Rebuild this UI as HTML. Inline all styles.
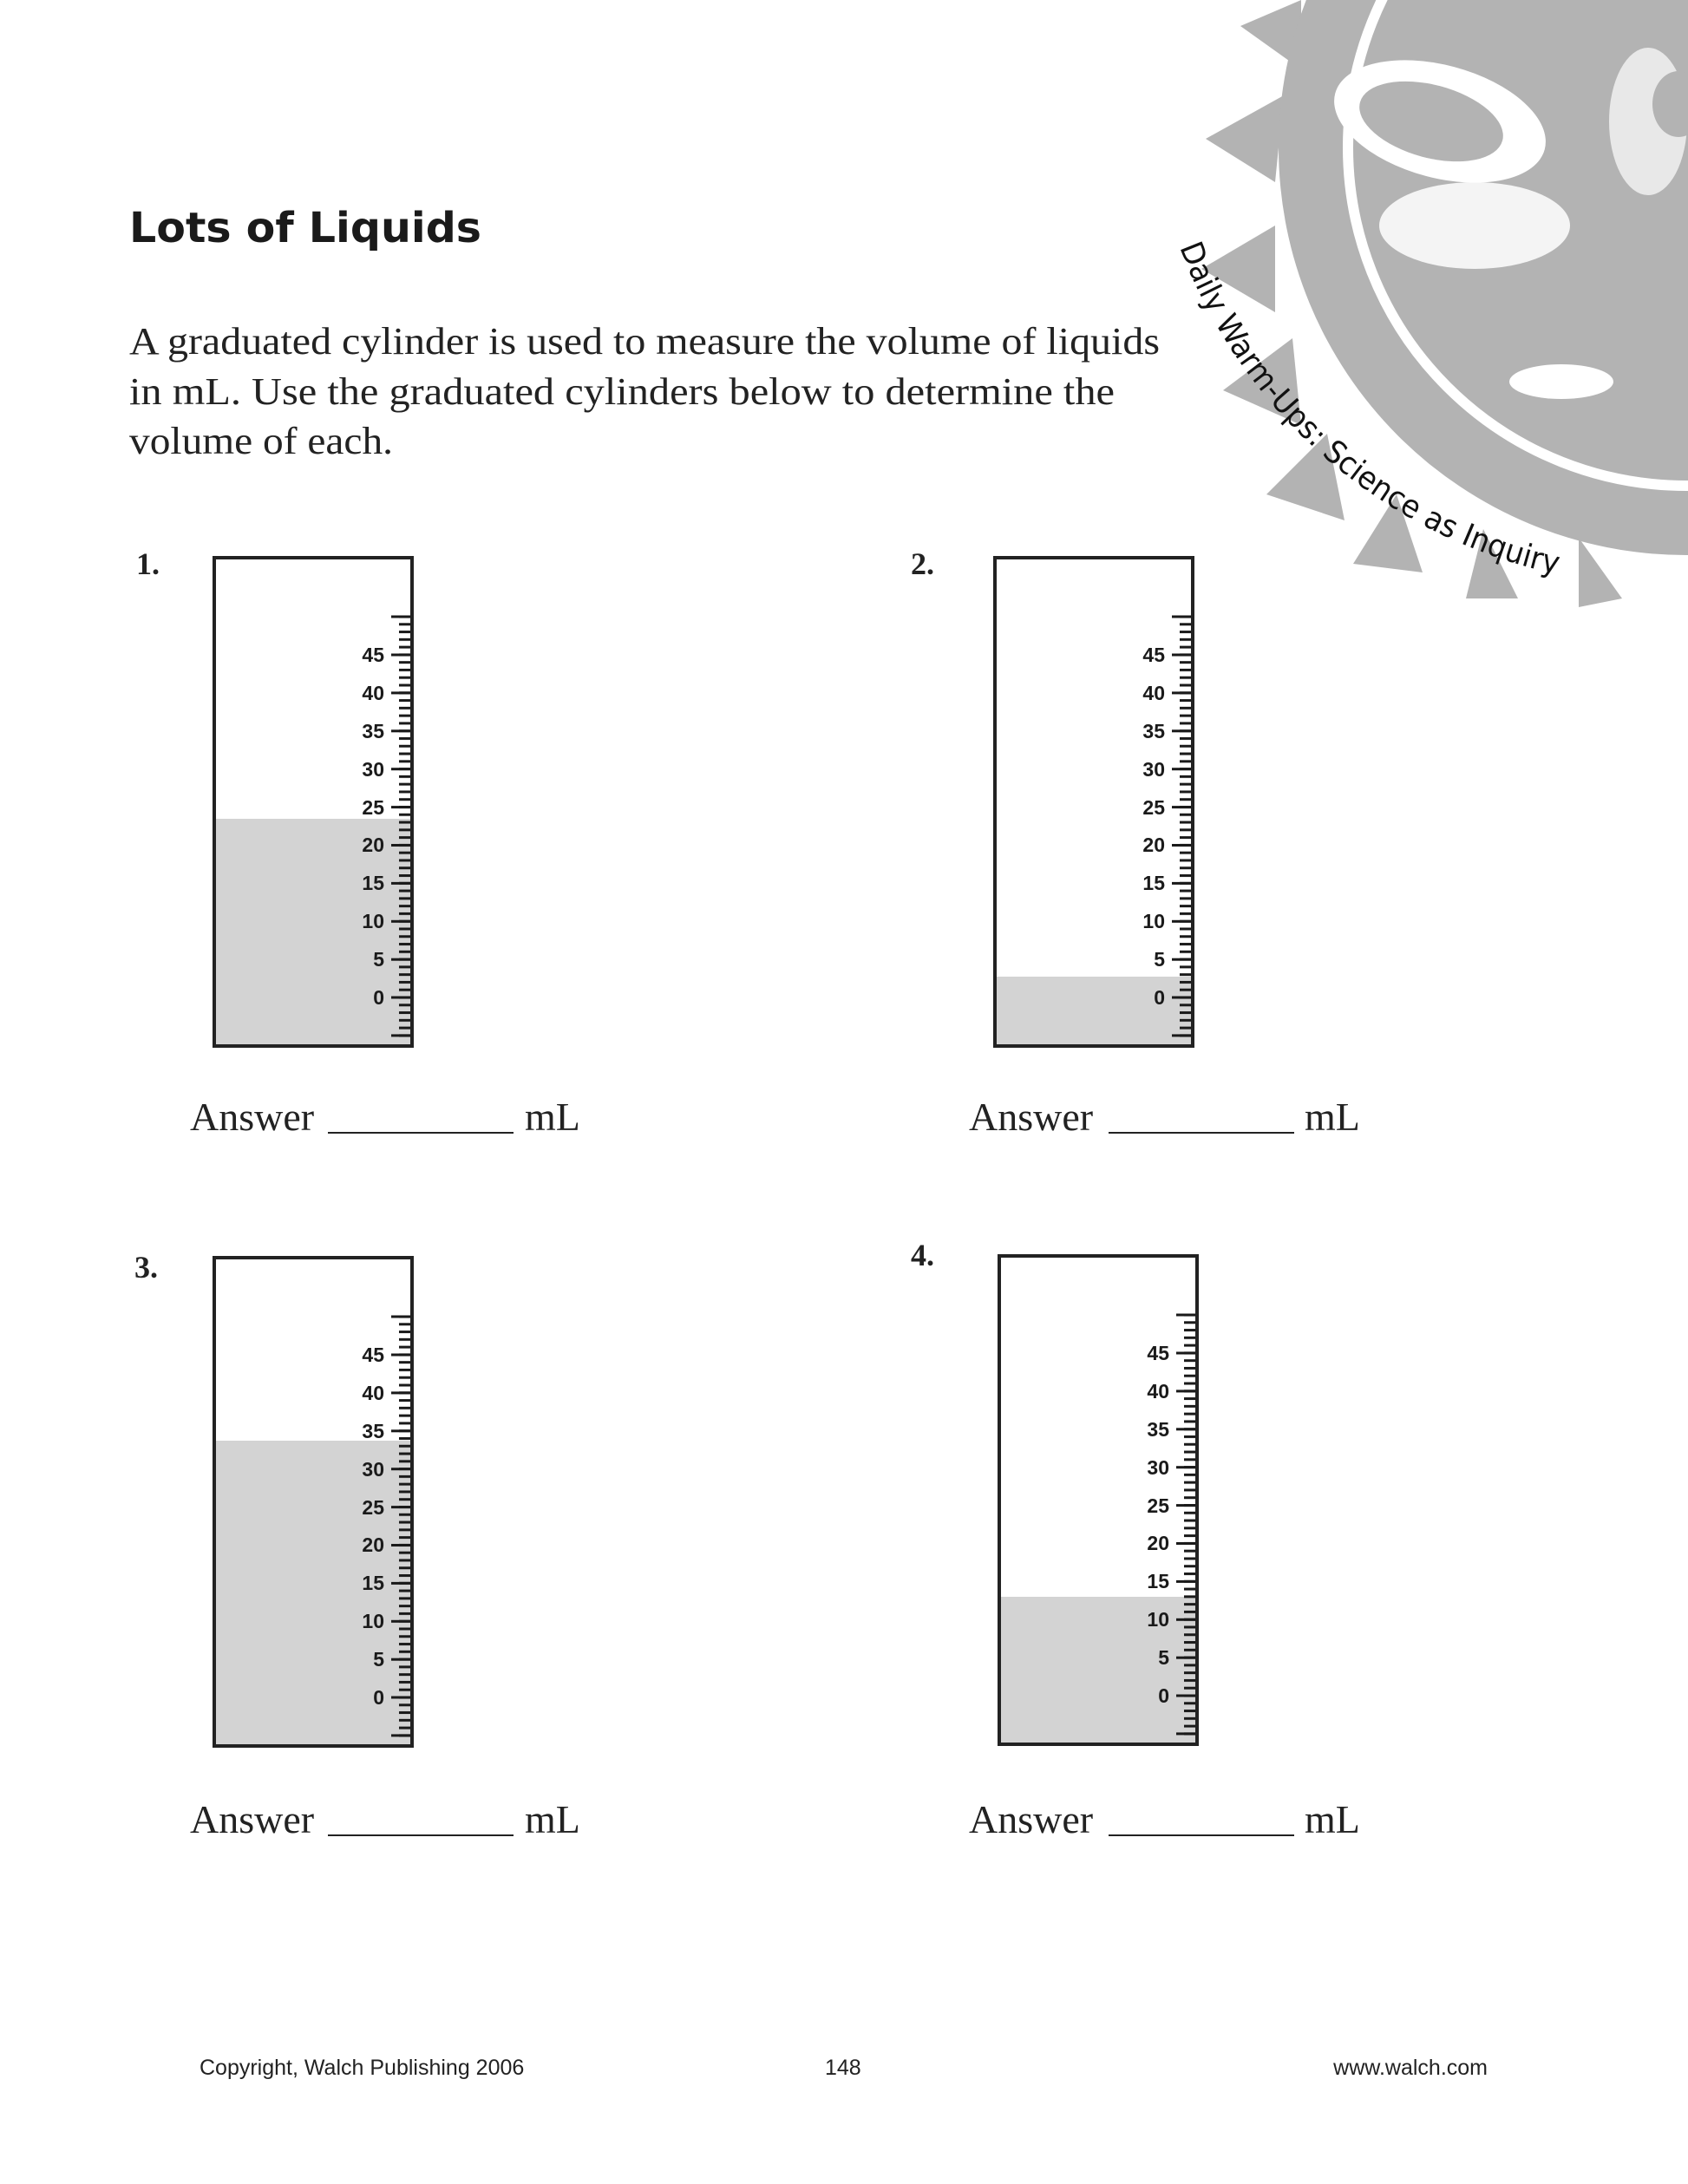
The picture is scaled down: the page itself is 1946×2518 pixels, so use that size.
<!DOCTYPE html>
<html><head><meta charset="utf-8"><style>
html,body{margin:0;padding:0;background:#fff;}
svg{display:block;}
</style></head><body>
<svg width="1946" height="2518" viewBox="0 0 1946 2518" xmlns="http://www.w3.org/2000/svg">
<defs>
<pattern id="tk" patternUnits="userSpaceOnUse" width="40" height="8.78" patternTransform="translate(0,7.04)">
<rect x="0" y="0" width="40" height="3" fill="#1a1a1a"/>
</pattern>
<g id="scale">
<rect x="215" y="68.5" width="14" height="487" fill="url(#tk)"/>
<g fill="#1a1a1a">
<rect x="206" y="68.5" width="23" height="3"/>
<rect x="206" y="112.5" width="23" height="3"/>
<rect x="206" y="156.4" width="23" height="3"/>
<rect x="206" y="200.3" width="23" height="3"/>
<rect x="206" y="244.2" width="23" height="3"/>
<rect x="206" y="288.1" width="23" height="3"/>
<rect x="206" y="332" width="23" height="3"/>
<rect x="206" y="375.9" width="23" height="3"/>
<rect x="206" y="419.8" width="23" height="3"/>
<rect x="206" y="463.7" width="23" height="3"/>
<rect x="206" y="507.5" width="23" height="3"/>
<rect x="206" y="551.4" width="23" height="3"/>
</g>
<g font-family="Liberation Sans, sans-serif" font-weight="bold" font-size="23" fill="#1a1a1a" text-anchor="end">
<text x="198" y="122">45</text>
<text x="198" y="166">40</text>
<text x="198" y="210">35</text>
<text x="198" y="254">30</text>
<text x="198" y="298">25</text>
<text x="198" y="341">20</text>
<text x="198" y="385">15</text>
<text x="198" y="429">10</text>
<text x="198" y="473">5</text>
<text x="198" y="517">0</text>
</g>
</g>
</defs>

<!-- Sun -->
<g>
<g fill="#b3b3b3">
<polygon points="1390,160 1480,110 1470,210"/>
<polygon points="1385,310 1470,260 1470,360"/>
<polygon points="1410,450 1490,390 1500,490"/>
<polygon points="1460,570 1530,500 1550,600"/>
<polygon points="1560,650 1610,570 1640,660"/>
<polygon points="1690,690 1710,610 1750,690"/>
<polygon points="1820,700 1820,620 1870,690"/>
<polygon points="1430,30 1500,0 1500,80"/>
<polygon points="1560,0 1620,0 1590,40"/>
<circle cx="1944" cy="170" r="470"/>
</g>
<circle cx="1944" cy="170" r="390" fill="none" stroke="#fff" stroke-width="12"/>
<ellipse cx="1660" cy="140" rx="125" ry="65" fill="#fff" transform="rotate(15 1660 140)"/>
<ellipse cx="1650" cy="140" rx="85" ry="42" fill="#b3b3b3" transform="rotate(15 1650 140)"/>
<ellipse cx="1700" cy="260" rx="110" ry="50" fill="#fff" opacity="0.85"/>
<ellipse cx="1900" cy="140" rx="45" ry="85" fill="#fff" opacity="0.7"/>
<ellipse cx="1800" cy="440" rx="60" ry="20" fill="#fff"/>
<ellipse cx="1935" cy="120" rx="30" ry="38" fill="#b3b3b3"/>
</g>
<path id="arc" d="M 1360 285 A 600 600 0 0 0 1810 665" fill="none"/>
<text font-family="DejaVu Sans, sans-serif" font-size="36" fill="#111"><textPath href="#arc" textLength="600" lengthAdjust="spacingAndGlyphs">Daily Warm-Ups: Science as Inquiry</textPath></text>

<!-- Title & intro -->
<text x="149" y="279" font-family="DejaVu Sans, sans-serif" font-weight="bold" font-size="48" fill="#1a1a1a" textLength="406" lengthAdjust="spacingAndGlyphs">Lots of Liquids</text>
<g font-family="Liberation Serif, serif" font-size="44" fill="#222">
<text x="149" y="408" textLength="1188" lengthAdjust="spacingAndGlyphs">A graduated cylinder is used to measure the volume of liquids</text>
<text x="149" y="466" textLength="1136" lengthAdjust="spacingAndGlyphs">in mL. Use the graduated cylinders below to determine the</text>
<text x="149" y="523" textLength="304" lengthAdjust="spacingAndGlyphs">volume of each.</text>
</g>

<g font-family="Liberation Serif, serif" font-weight="bold" font-size="36" fill="#222">
<text x="157" y="662">1.</text>
<text x="1050" y="662">2.</text>
<text x="155" y="1473">3.</text>
<text x="1050" y="1459">4.</text>
</g>

<!-- Cylinder 1 -->
<g transform="translate(245,641)">
<rect x="2" y="2" width="228" height="563" fill="#fff"/>
<rect x="2" y="303" width="228" height="262" fill="#d3d3d3"/>
<use href="#scale"/>
<rect x="2" y="2" width="228" height="563" fill="none" stroke="#222" stroke-width="4"/>
</g>
<!-- Cylinder 2 -->
<g transform="translate(1145,641)">
<rect x="2" y="2" width="228" height="563" fill="#fff"/>
<rect x="2" y="485" width="228" height="80" fill="#d3d3d3"/>
<use href="#scale"/>
<rect x="2" y="2" width="228" height="563" fill="none" stroke="#222" stroke-width="4"/>
</g>
<!-- Cylinder 3 -->
<g transform="translate(245,1448)">
<rect x="2" y="2" width="228" height="563" fill="#fff"/>
<rect x="2" y="213" width="228" height="352" fill="#d3d3d3"/>
<use href="#scale"/>
<rect x="2" y="2" width="228" height="563" fill="none" stroke="#222" stroke-width="4"/>
</g>
<!-- Cylinder 4 -->
<g transform="translate(1150,1446)">
<rect x="2" y="2" width="228" height="563" fill="#fff"/>
<rect x="2" y="395" width="228" height="170" fill="#d3d3d3"/>
<use href="#scale"/>
<rect x="2" y="2" width="228" height="563" fill="none" stroke="#222" stroke-width="4"/>
</g>

<!-- Answers -->
<g font-family="Liberation Serif, serif" font-size="46" fill="#222">
<text x="219" y="1303">Answer</text>
<rect x="378" y="1305" width="214" height="2" fill="#222"/>
<text x="605" y="1303">mL</text>
<text x="1117" y="1303">Answer</text>
<rect x="1278" y="1305" width="214" height="2" fill="#222"/>
<text x="1504" y="1303">mL</text>
<text x="219" y="2113">Answer</text>
<rect x="378" y="2115" width="214" height="2" fill="#222"/>
<text x="605" y="2113">mL</text>
<text x="1117" y="2113">Answer</text>
<rect x="1278" y="2115" width="214" height="2" fill="#222"/>
<text x="1504" y="2113">mL</text>
</g>

<!-- Footer -->
<g font-family="Liberation Sans, sans-serif" font-size="25" fill="#222">
<text x="230" y="2392">Copyright, Walch Publishing 2006</text>
<text x="951" y="2392">148</text>
<text x="1715" y="2392" text-anchor="end">www.walch.com</text>
</g>
</svg>
</body></html>
